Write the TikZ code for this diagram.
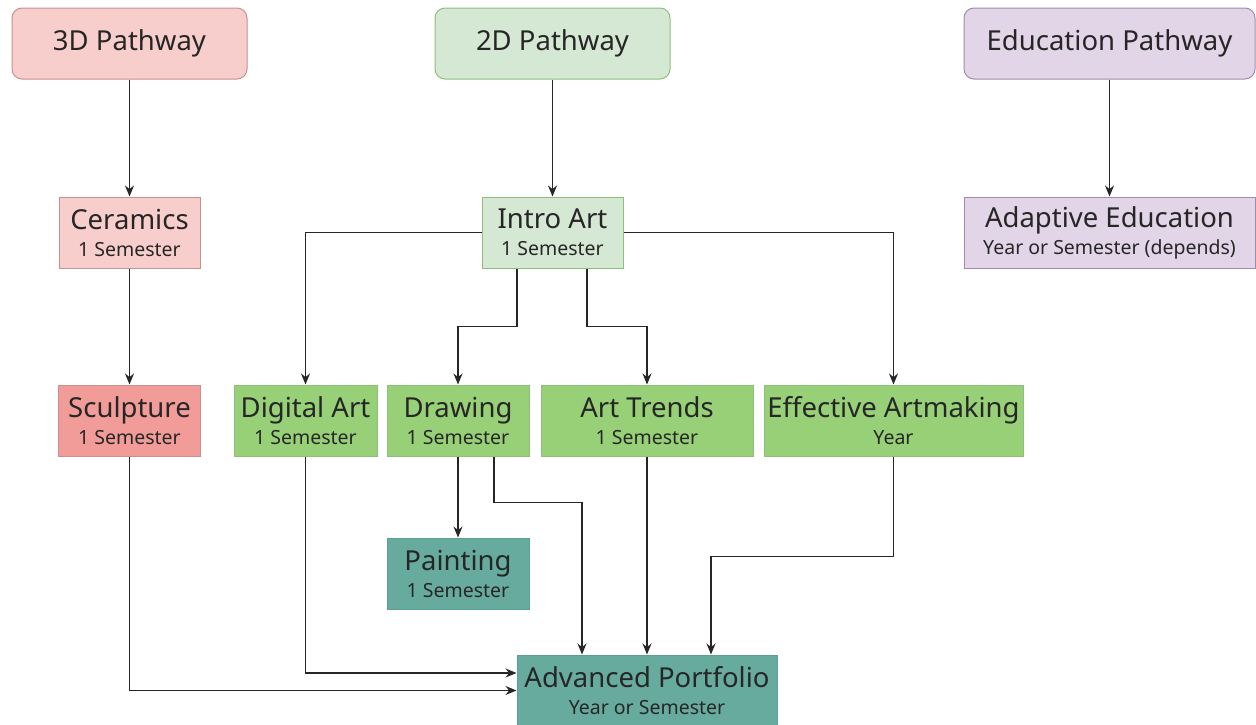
\documentclass[tikz,border=0pt]{standalone}
\usepackage{fontspec}
\setmainfont{Noto Sans}
\usetikzlibrary{arrows.meta}

\definecolor{pinklt}{HTML}{F8CECC}
\definecolor{pinkdk}{HTML}{F19C99}
\definecolor{pinkln}{HTML}{C9908D}
\definecolor{greenlt}{HTML}{D5E8D4}
\definecolor{greenmd}{HTML}{97D077}
\definecolor{greenln}{HTML}{8DC07A}
\definecolor{teal}{HTML}{67AB9F}
\definecolor{tealln}{HTML}{5F9E92}
\definecolor{lilac}{HTML}{E1D5E7}
\definecolor{lilacln}{HTML}{A28BAE}

\newcommand{\titlef}{\fontsize{27.5}{27}\selectfont}
\newcommand{\subf}{\fontsize{19.5}{27}\selectfont}

\tikzset{
    course/.style={rectangle, draw, line width=1pt, inner sep=0pt,
        minimum height=71pt, align=center, text=black!85, font=\titlef},
    pathway/.style={course, rounded corners=10pt},
    arr/.style={-{Stealth[length=11pt,width=9pt]}, line width=1.3pt, black!85}
}

\begin{document}
\begin{tikzpicture}[x=1pt, y=-1pt]

    \useasboundingbox (0, 0) rectangle (1256, 724);

    % pathways
    \node (p3d) [pathway, fill=pinklt, draw=pinkln, minimum width=235pt] at (129.5, 43.5) {3D Pathway};
    \node (p2d) [pathway, fill=greenlt, draw=greenln, minimum width=235pt] at (552.5, 43.5) {2D Pathway};
    \node (pedu) [pathway, fill=lilac, draw=lilacln, minimum width=291pt] at (1109.5, 43.5) {Education Pathway};

    % first courses
    \node (ceramics) [course, fill=pinklt, draw=pinkln, minimum width=141pt] at (129.5, 232.5) {Ceramics\\{\subf 1 Semester}};
    \node (intro) [course, fill=greenlt, draw=greenln, minimum width=141pt] at (552.5, 232.5) {Intro Art\\{\subf 1 Semester}};
    \node (adaptive) [course, fill=lilac, draw=lilacln, minimum width=291pt] at (1109.5, 232.5) {Adaptive Education\\{\subf Year or Semester (depends)}};

    % second row
    \node (sculpture) [course, fill=pinkdk, draw=pinkln, minimum width=142pt] at (129.5, 420.5) {Sculpture\\{\subf 1 Semester}};
    \node (digital) [course, fill=greenmd, draw=greenln, minimum width=143pt] at (305.5, 420.5) {Digital Art\\{\subf 1 Semester}};
    \node (drawing) [course, fill=greenmd, draw=greenln, minimum width=142pt] at (458, 420.5) {Drawing\\{\subf 1 Semester}};
    \node (trends) [course, fill=greenmd, draw=greenln, minimum width=212pt] at (647, 420.5) {Art Trends\\{\subf 1 Semester}};
    \node (effective) [course, fill=greenmd, draw=greenln, minimum width=259pt] at (893.5, 420.5) {Effective Artmaking\\{\subf Year}};

    \node (painting) [course, fill=teal, draw=tealln, minimum width=142pt] at (458, 573.5) {Painting\\{\subf 1 Semester}};
    \node (portfolio) [course, fill=teal, draw=tealln, minimum width=260pt] at (647, 690.5) {Advanced Portfolio\\{\subf Year or Semester}};

    % connectors
    \draw [arr] (p3d) -- (ceramics);
    \draw [arr] (p2d) -- (intro);
    \draw [arr] (pedu) -- (adaptive);
    \draw [arr] (ceramics) -- (sculpture);

    \draw [arr] (intro.west) -| (digital.north);
    \draw [arr] ([xshift=-35.5pt]intro.south) -- ++(0, 58) -| (drawing.north);
    \draw [arr] ([xshift=34.5pt]intro.south) -- ++(0, 58) -| (trends.north);
    \draw [arr] (intro.east) -| (effective.north);

    \draw [arr] (drawing) -- (painting);
    \draw [arr] (sculpture.south) |- (portfolio.west);
    \draw [arr] (digital.south) |- ([yshift=17.5pt]portfolio.west);
    \draw [arr] ([xshift=36pt]drawing.south) -- ++(0, 46) -| ([xshift=-65pt]portfolio.north);
    \draw [arr] (trends) -- (portfolio);
    \draw [arr] (effective.south) -- ++(0, 100) -| ([xshift=64pt]portfolio.north);

\end{tikzpicture}
\end{document}
